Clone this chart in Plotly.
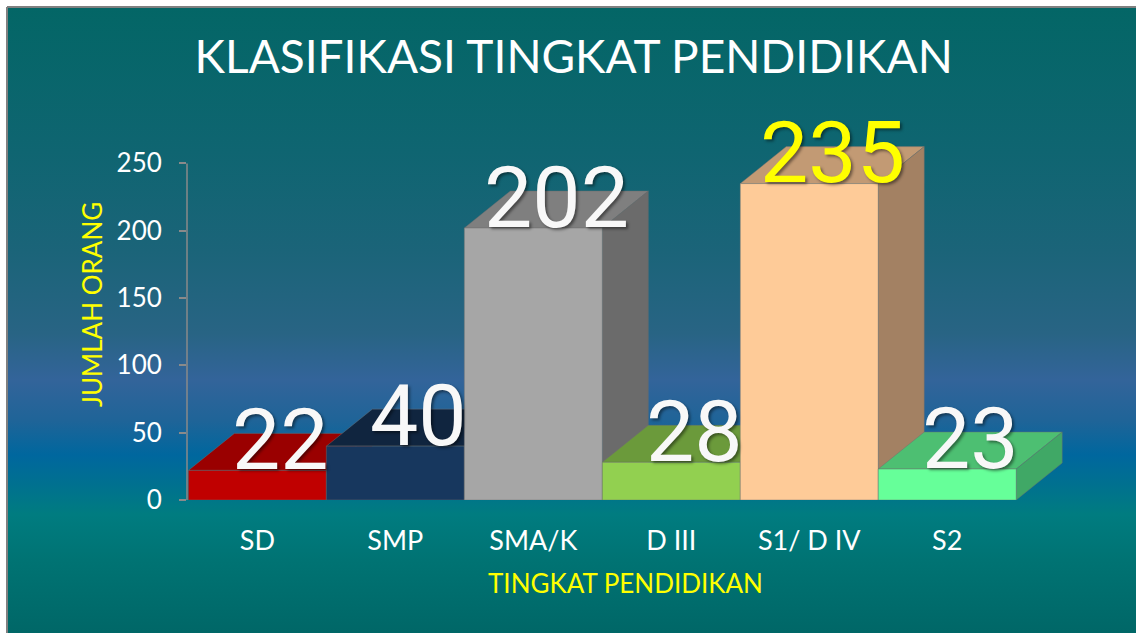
import base64
import plotly.graph_objects as go

# ---------------- data ----------------
categories = ["SD", "SMP", "SMA/K", "D III", "S1/ D IV", "S2"]
values = [22, 40, 202, 28, 235, 23]
y_ticks = [0, 50, 100, 150, 200, 250]

# ---------------- styles ----------------
front_colors = ["#c00000", "#17375e", "#a6a6a6", "#92d050", "#fecb98", "#66ff99"]
top_colors = ["#9a0000", "#10253f", "#7f7f7f", "#6b9a3b", "#c29a74", "#4dbf72"]
side_colors = ["#800000", "#0c1c30", "#6b6b6b", "#5a8232", "#a38163", "#40a866"]
label_colors = ["#f8f8f8", "#f8f8f8", "#f8f8f8", "#f8f8f8", "#ffff00", "#f8f8f8"]

W, H = 1136, 633
L, R, T, B = 187, 66, 123, 133
PW, PH = W - L - R, H - T - B
X_RANGE = [-0.51, 5.89]
Y_RANGE = [0, 280]
PX_PER_X = PW / (X_RANGE[1] - X_RANGE[0])
PX_PER_Y = PH / (Y_RANGE[1] - Y_RANGE[0])
DX = 46 / PX_PER_X   # 3D depth offset, horizontal
DY = 37 / PX_PER_Y   # 3D depth offset, vertical


def px_to_paper_x(px):
    return (px - L) / PW


def px_to_paper_y(py):
    return (H - B - py) / PH


fig = go.Figure()

edge = dict(color="rgba(110,110,110,0.55)", width=0.8)
for i, (cat, v) in enumerate(zip(categories, values)):
    xl, xr = i - 0.5, i + 0.5
    # top face
    fig.add_trace(go.Scatter(
        x=[xl, xr, xr + DX, xl + DX, xl], y=[v, v, v + DY, v + DY, v],
        mode="lines", fill="toself", fillcolor=top_colors[i], line=edge,
        hoverinfo="skip", showlegend=False))
    # side face
    fig.add_trace(go.Scatter(
        x=[xr, xr, xr + DX, xr + DX, xr], y=[0, v, v + DY, DY, 0],
        mode="lines", fill="toself", fillcolor=side_colors[i], line=edge,
        hoverinfo="skip", showlegend=False))
    # front face
    fig.add_trace(go.Scatter(
        x=[xl, xr, xr, xl, xl], y=[0, 0, v, v, 0],
        mode="lines", fill="toself", fillcolor=front_colors[i], line=edge,
        name=cat, text=f"{cat}: {v}", hoverinfo="text", showlegend=False))

# value labels
for i, v in enumerate(values):
    fig.add_annotation(
        x=i + DX / 2, y=v, xref="x", yref="y", text=str(v), showarrow=False,
        xanchor="center", yanchor="middle", yshift=31,
        font=dict(family="Roboto", size=86, color=label_colors[i],
                  shadow="2px 2px 3px rgba(0,0,0,0.45)"))

# axis titles
fig.add_annotation(
    x=px_to_paper_x(92), y=px_to_paper_y(305), xref="paper", yref="paper",
    xanchor="center", yanchor="middle",
    text="JUMLAH ORANG", textangle=-90, showarrow=False,
    font=dict(family="Lato", size=26, color="#ffff00"))
fig.add_annotation(
    x=px_to_paper_x(625), y=px_to_paper_y(583), xref="paper", yref="paper",
    xanchor="center", yanchor="middle",
    text="TINGKAT PENDIDIKAN", showarrow=False,
    font=dict(family="Lato", size=26, color="#ffff00"))

# background gradient as inline SVG
stops = [
    (0.00, "#036666"), (0.23, "#0f6571"), (0.39, "#1b6479"), (0.52, "#286484"),
    (0.595, "#33649a"), (0.66, "#1f6498"), (0.715, "#00679e"), (0.755, "#006f92"),
    (0.81, "#007c80"), (0.885, "#007373"), (1.00, "#006767"),
]
stop_xml = "".join(f'<stop offset="{o}" stop-color="{c}"/>' for o, c in stops)
svg = (f'<svg xmlns="http://www.w3.org/2000/svg" width="1200" height="700" '
       f'viewBox="0 0 1200 700" preserveAspectRatio="none"><defs>'
       f'<linearGradient id="g" x1="0" y1="0" x2="0" y2="1">'
       f'{stop_xml}</linearGradient></defs><rect x="0" y="0" width="1200" height="700" '
       f'fill="url(#g)"/></svg>')
src = "data:image/svg+xml;base64," + base64.b64encode(svg.encode()).decode()
fig.add_layout_image(
    source=src, xref="paper", yref="paper",
    x=px_to_paper_x(0), y=px_to_paper_y(8),
    sizex=(W + 40) / PW, sizey=(H - 8) / PH,
    xanchor="left", yanchor="top", sizing="stretch", layer="below")

# white slide margins (top / left) with gray frame line
fig.add_shape(type="rect", xref="paper", yref="paper",
              x0=px_to_paper_x(-5), x1=px_to_paper_x(7),
              y0=px_to_paper_y(-5), y1=px_to_paper_y(H + 10),
              fillcolor="white", line=dict(width=0), layer="below")
fig.add_shape(type="rect", xref="paper", yref="paper",
              x0=px_to_paper_x(-5), x1=px_to_paper_x(W + 10),
              y0=px_to_paper_y(-5), y1=px_to_paper_y(7),
              fillcolor="white", line=dict(width=0), layer="below")
fig.add_shape(type="line", xref="paper", yref="paper",
              x0=px_to_paper_x(7), x1=px_to_paper_x(W + 10),
              y0=px_to_paper_y(7), y1=px_to_paper_y(7),
              line=dict(color="#808080", width=2), layer="above")
fig.add_shape(type="line", xref="paper", yref="paper",
              x0=px_to_paper_x(7), x1=px_to_paper_x(7),
              y0=px_to_paper_y(7), y1=px_to_paper_y(H + 10),
              line=dict(color="#808080", width=2), layer="above")

# y axis line (0..250)
fig.add_shape(type="line", xref="paper", yref="y", x0=0, x1=0,
              y0=y_ticks[0], y1=y_ticks[-1],
              line=dict(color="#8a8a8a", width=1.5), layer="above")

fig.update_layout(
    width=W, height=H,
    margin=dict(l=L, r=R, t=T, b=B, pad=0),
    paper_bgcolor="#006767", plot_bgcolor="rgba(0,0,0,0)",
    title=dict(text="KLASIFIKASI TINGKAT PENDIDIKAN", x=0.505, y=1 - 57 / H,
               xanchor="center", yanchor="middle",
               font=dict(family="Lato", size=46, color="white")),
    showlegend=False,
    xaxis=dict(range=X_RANGE, tickmode="array", tickvals=list(range(len(categories))),
               ticktext=categories, showgrid=False, zeroline=False, showline=False,
               ticks="", ticklabelstandoff=22,
               tickfont=dict(family="Lato", size=27, color="white"), fixedrange=True),
    yaxis=dict(range=Y_RANGE, tickmode="array", tickvals=y_ticks,
               showgrid=False, zeroline=False, showline=False,
               ticks="outside", ticklen=7, tickwidth=1.5, tickcolor="#8a8a8a",
               ticklabelstandoff=12,
               tickfont=dict(family="Lato", size=26, color="white"), fixedrange=True),
)

fig.write_html("out.html", config={"displayModeBar": False},
               post_script="document.body.style.margin='0';document.body.style.overflow='hidden';")
